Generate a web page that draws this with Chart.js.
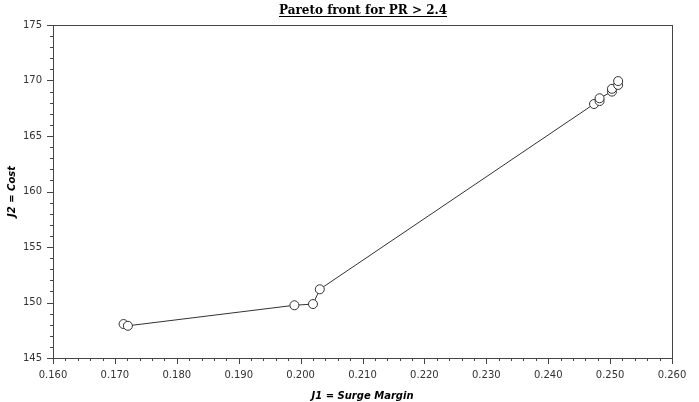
<!DOCTYPE html>
<html>
<head>
<meta charset="utf-8">
<script src="https://cdn.jsdelivr.net/npm/chart.js@4/dist/chart.umd.min.js"></script>
<style>
  html, body { margin: 0; padding: 0; background: #fff; }
  #wrap { width: 699px; height: 402px; }
</style>
</head>
<body>
<div id="wrap"><canvas id="pareto" width="699" height="402"></canvas></div>
<script>
// Pareto front data
const surgeMargin = [0.1714, 0.1721, 0.1990, 0.2020, 0.2031, 0.2474, 0.2483, 0.2483, 0.2503, 0.2503, 0.2513, 0.2513];
const cost        = [148.06, 147.90, 149.75, 149.86, 151.19, 167.88, 168.15, 168.40, 169.00, 169.25, 169.60, 169.95];
const xTicks = [0.16, 0.17, 0.18, 0.19, 0.20, 0.21, 0.22, 0.23, 0.24, 0.25, 0.26];
const yTicks = [145, 150, 155, 160, 165, 170, 175];
const chartTitle = 'Pareto front for PR > 2.4';

const points = surgeMargin.map((x, i) => ({ x: x, y: cost[i] }));

// frame, minor ticks and the underlined title over the plot area
const decor = {
  id: 'decor',
  afterDraw(chart) {
    const ctx = chart.ctx;
    const a = chart.chartArea;
    const xs = chart.scales.x, ys = chart.scales.y;
    ctx.save();
    ctx.strokeStyle = '#444';
    ctx.lineWidth = 1;
    ctx.strokeRect(Math.round(a.left) + 0.5, Math.round(a.top) + 0.5,
                   Math.round(a.right - a.left), Math.round(a.bottom - a.top));
    ctx.beginPath();
    // x ticks: every 0.002, major every 0.01
    for (let i = 0; i <= 50; i++) {
      const v = 0.16 + i * 0.002;
      const px = Math.round(xs.getPixelForValue(v)) + 0.5;
      const len = (i % 5 === 0) ? 6 : 3;
      ctx.moveTo(px, a.bottom);
      ctx.lineTo(px, a.bottom + len);
    }
    // y ticks: every 1, major every 5
    for (let i = 0; i <= 30; i++) {
      const v = 145 + i;
      const py = Math.round(ys.getPixelForValue(v)) + 0.5;
      const len = (i % 5 === 0) ? 6 : 3;
      ctx.moveTo(a.left, py);
      ctx.lineTo(a.left - len, py);
    }
    ctx.stroke();

    // title
    const cx = Math.round((a.left + a.right) / 2);
    ctx.font = 'bold 12px "DejaVu Serif"';
    ctx.fillStyle = '#000';
    ctx.textAlign = 'center';
    ctx.textBaseline = 'alphabetic';
    ctx.fillText(chartTitle, cx, 14);
    const w = ctx.measureText(chartTitle).width;
    ctx.strokeStyle = '#000';
    ctx.beginPath();
    ctx.moveTo(cx - w / 2, 16.5);
    ctx.lineTo(cx + w / 2, 16.5);
    ctx.stroke();
    ctx.restore();
  }
};

new Chart(document.getElementById('pareto'), {
  type: 'scatter',
  data: {
    datasets: [{
      data: points,
      showLine: true,
      borderColor: '#333',
      borderWidth: 1,
      backgroundColor: '#fff',
      pointBackgroundColor: '#fff',
      pointBorderColor: '#333',
      pointBorderWidth: 1,
      pointRadius: 4.5,
      tension: 0
    }]
  },
  options: {
    responsive: false,
    animation: false,
    layout: { padding: { left: 0, right: 27, top: 25, bottom: 0 } },
    plugins: {
      legend: { display: false },
      tooltip: { enabled: false },
      title: { display: false }
    },
    scales: {
      x: {
        type: 'linear',
        min: 0.16,
        max: 0.26,
        afterBuildTicks(scale) { scale.ticks = xTicks.map(v => ({ value: v })); },
        afterFit(scale) { scale.height = 44; },
        ticks: {
          color: '#333',
          font: { family: '"DejaVu Sans"', size: 10 },
          padding: 11,
          maxRotation: 0,
          callback: v => v.toFixed(3)
        },
        grid: { drawOnChartArea: false, drawTicks: false },
        border: { display: false },
        title: {
          display: true,
          text: 'J1 = Surge Margin',
          color: '#000',
          font: { family: '"DejaVu Sans"', size: 10, weight: 'bold', style: 'italic' },
          padding: { top: 4, bottom: 0 }
        }
      },
      y: {
        type: 'linear',
        min: 145,
        max: 175,
        afterBuildTicks(scale) { scale.ticks = yTicks.map(v => ({ value: v })); },
        afterFit(scale) { scale.width = 53; },
        ticks: {
          color: '#333',
          font: { family: '"DejaVu Sans"', size: 10 },
          padding: 11
        },
        grid: { drawOnChartArea: false, drawTicks: false },
        border: { display: false },
        title: {
          display: true,
          text: 'J2 = Cost',
          color: '#000',
          font: { family: '"DejaVu Sans"', size: 10, weight: 'bold', style: 'italic' },
          padding: { top: 6, bottom: 0 }
        }
      }
    }
  },
  plugins: [decor]
});
</script>
</body>
</html>
